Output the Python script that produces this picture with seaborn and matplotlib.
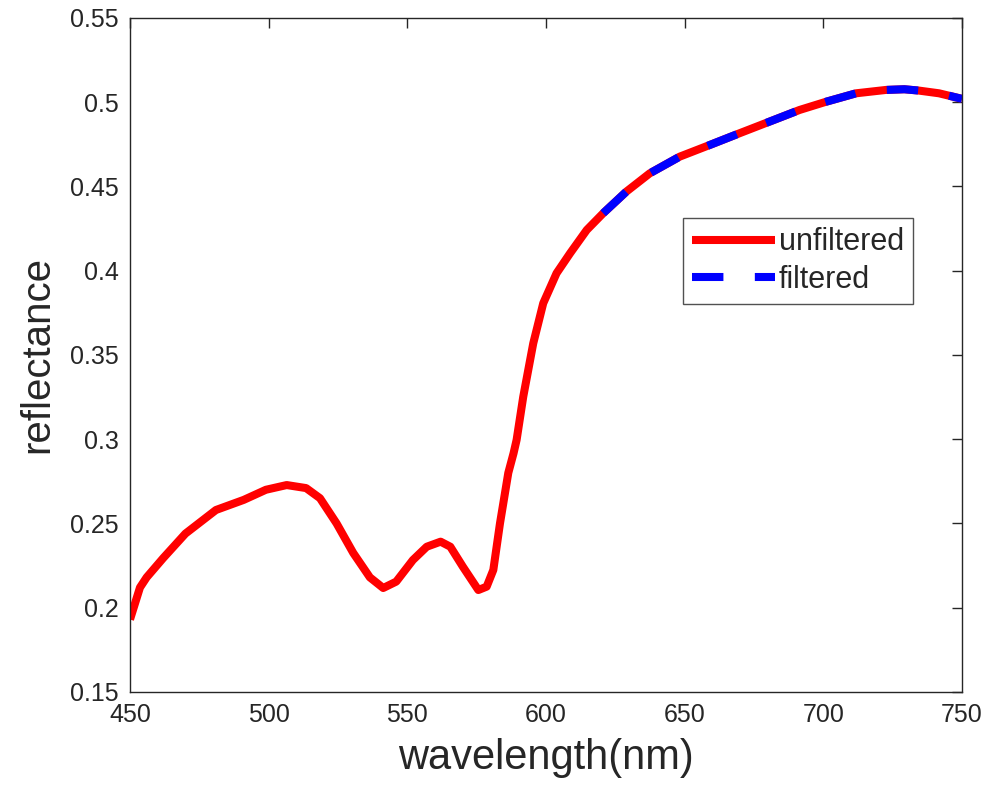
import seaborn as sns
import matplotlib.pyplot as plt
from matplotlib.ticker import FuncFormatter, MultipleLocator
import pandas as pd

# spectrum (wavelength in nm)
wavelength = [450, 453.6, 456, 462, 470, 481, 491, 499, 506.5, 513.5, 518.5,
              524.5, 530.5, 536.5, 541.3, 546, 552, 557, 562, 565.5, 570,
              575.6, 578.6, 581, 583.4, 586.4, 588.3, 589.4, 591.8, 595.4,
              599, 603.8, 608.7, 614.7, 620.6, 629, 637.4, 648.2, 659, 669.8,
              680.6, 691.4, 701, 711.8, 722.6, 729.2, 734.5, 741.7, 750]
unfiltered = [0.193, 0.212, 0.218, 0.2295, 0.244, 0.258, 0.264, 0.270, 0.2728,
              0.271, 0.265, 0.250, 0.2325, 0.218, 0.2117, 0.2155, 0.2283,
              0.2362, 0.2392, 0.2362, 0.2244, 0.2105, 0.2125, 0.2224, 0.250,
              0.280, 0.2917, 0.2996, 0.3253, 0.3569, 0.3807, 0.3985, 0.4104,
              0.4242, 0.4341, 0.447, 0.4578, 0.4677, 0.4746, 0.4816, 0.4885,
              0.4954, 0.5003, 0.5053, 0.5073, 0.5077, 0.5069, 0.5053, 0.502]

# filtered curve only shows from ~620 nm on
filt_wavelength = [620.6, 629, 637.4, 648.2, 659, 669.8, 680.6, 691.4, 701,
                   711.8, 722.6, 729.2, 734.5, 741.7, 750]
filtered = [0.4341, 0.447, 0.4578, 0.4677, 0.4746, 0.4816, 0.4885, 0.4954,
            0.5003, 0.5053, 0.5073, 0.5077, 0.5069, 0.5053, 0.502]

x_ticks = [450, 500, 550, 600, 650, 700, 750]

df_raw = pd.DataFrame({'wavelength': wavelength, 'reflectance': unfiltered})
df_filt = pd.DataFrame({'wavelength': filt_wavelength, 'reflectance': filtered})

sns.set_theme(style='white')
plt.rcParams['font.family'] = ['Liberation Sans', 'DejaVu Sans']
axis_col = '#262626'

fig = plt.figure(figsize=(9.87, 7.92), dpi=100)
ax = fig.add_axes([0.1317, 0.1263, 0.843, 0.851])

lw = 5.8
sns.lineplot(data=df_raw, x='wavelength', y='reflectance', ax=ax, color='#ff0000',
             lw=lw, sort=False, label='unfiltered', solid_capstyle='butt',
             solid_joinstyle='round')
sns.lineplot(data=df_filt, x='wavelength', y='reflectance', ax=ax, color='#0000ff',
             lw=lw, sort=False, label='filtered', linestyle=(0, (3.9, 3.9)),
             dash_capstyle='butt', dash_joinstyle='round')

ax.set_xlim(450, 750)
ax.set_ylim(0.15, 0.55)
ax.set_xticks(x_ticks)
ax.yaxis.set_major_locator(MultipleLocator(0.05))
ax.yaxis.set_major_formatter(FuncFormatter(lambda v, p: '%g' % round(v, 2)))

ax.tick_params(direction='in', length=7, width=1, colors=axis_col,
               labelsize=18, top=True, right=True, pad=8)
for s in ax.spines.values():
    s.set_color(axis_col)
    s.set_linewidth(1)

ax.set_xlabel('wavelength(nm)', fontsize=30, color=axis_col, labelpad=8)
ax.set_ylabel('reflectance', fontsize=29, color=axis_col, labelpad=10)

leg = ax.legend(loc='upper left', bbox_to_anchor=(0.665, 0.703), borderaxespad=0,
                fontsize=22, frameon=True, fancybox=False, handlelength=2.7,
                handletextpad=0.12, borderpad=0.3, labelspacing=0.25)
leg.get_frame().set_edgecolor(axis_col)
leg.get_frame().set_linewidth(1)

plt.savefig('out.png', dpi=100, facecolor='white')
plt.close()
